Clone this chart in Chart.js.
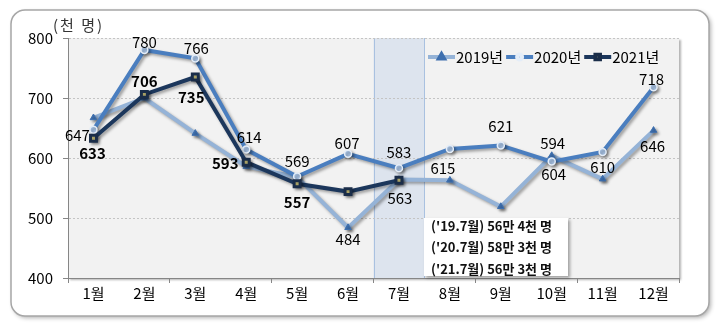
<!DOCTYPE html>
<html>
<head>
<meta charset="utf-8">
<script src="https://cdn.jsdelivr.net/npm/chart.js@4.4.0/dist/chart.umd.min.js"></script>
<style>
  html, body { margin: 0; padding: 0; background: #fff; }
  canvas { display: block; }
</style>
</head>
<body>
<canvas id="chart-visitors" width="724" height="328"></canvas>
<script>
// data
const months = ['1월', '2월', '3월', '4월', '5월', '6월', '7월', '8월', '9월', '10월', '11월', '12월'];
const visitors2019 = [667, 700, 641, 586, 568, 484, 564, 563, 519, 604, 565, 646];
const visitors2020 = [647, 780, 766, 614, 569, 607, 583, 615, 621, 594, 610, 718];
const visitors2021 = [633, 706, 735, 593, 557, 544, 563];
const seriesNames = ['2019년', '2020년', '2021년'];
const unitText = '(천 명)';
const highlightMonth = '7월';
const noteLines = ["('19.7월) 56만 4천 명", "('20.7월) 58만 3천 명", "('21.7월) 56만 3천 명"];

// where each value label sits relative to its point [dx, dy], null = no label
const labelPos2019 = [null, null, null, null, null, [0, 12], null, null, null, [2, 19], null, [-1, 16]];
const labelPos2020 = [[-16, 5], [0, -8], [1, -10], [3, -12], [0, -15], [-1, -11], [0, -16], [-7, 19], [0, -19], [1, -18], [0, 15], [-2, -8]];
const labelPos2021 = [[-1, 15], [0, -13], [-4, 20], [-21, 1], [0, 18], null, [1, 18]];
const labelBold2021 = [true, true, true, true, true, true, false];

const fontFam = "'Noto Sans CJK KR', 'Noto Sans', sans-serif";
const axisGray = '#868686';

const pointShadow = {
    id: 'pointShadow',
    beforeDatasetDraw(chart) {
        const ctx = chart.ctx;
        ctx.save();
        ctx.shadowColor = 'rgba(0,0,0,0.35)';
        ctx.shadowBlur = 3;
        ctx.shadowOffsetX = 2;
        ctx.shadowOffsetY = 2;
    },
    afterDatasetDraw(chart) {
        chart.ctx.restore();
    }
};

const frame = {
    id: 'frame',
    beforeDraw(chart) {
        const ctx = chart.ctx;
        const a = chart.chartArea;
        ctx.save();
        ctx.fillStyle = '#fff';
        ctx.fillRect(0, 0, chart.width, chart.height);

        // outer rounded box
        ctx.shadowColor = 'rgba(0,0,0,0.3)';
        ctx.shadowBlur = 4;
        ctx.shadowOffsetX = 2;
        ctx.shadowOffsetY = 2;
        ctx.beginPath();
        ctx.roundRect(11, 10, 698, 306, 14);
        ctx.fill();
        ctx.shadowColor = 'transparent';
        ctx.lineWidth = 1.5;
        ctx.strokeStyle = '#a6a6a6';
        ctx.stroke();

        // plot background
        ctx.shadowColor = 'rgba(0,0,0,0.3)';
        ctx.shadowBlur = 2;
        ctx.shadowOffsetX = 2;
        ctx.shadowOffsetY = 2;
        ctx.fillStyle = '#f2f2f2';
        ctx.fillRect(a.left, a.top, a.right - a.left, a.bottom - a.top);
        ctx.shadowColor = 'transparent';

        // highlighted month band
        const x = chart.scales.x;
        const idx = months.indexOf(highlightMonth);
        const step = (a.right - a.left) / months.length;
        const cx = x.getPixelForValue(idx);
        ctx.fillStyle = '#dde4ee';
        ctx.fillRect(cx - step / 2, a.top, step, a.bottom - a.top);
        ctx.strokeStyle = '#a9c1e0';
        ctx.lineWidth = 1;
        ctx.beginPath();
        ctx.moveTo(Math.round(cx - step / 2) + 0.5, a.top);
        ctx.lineTo(Math.round(cx - step / 2) + 0.5, a.bottom);
        ctx.moveTo(Math.round(cx + step / 2) + 0.5, a.top);
        ctx.lineTo(Math.round(cx + step / 2) + 0.5, a.bottom);
        ctx.stroke();

        // unit text
        ctx.fillStyle = '#333';
        ctx.font = '15px ' + fontFam;
        ctx.letterSpacing = '2px';
        ctx.textBaseline = 'middle';
        ctx.textAlign = 'left';
        ctx.fillText(unitText, 53, 25);
        ctx.restore();
    }
};

const valueLabels = {
    id: 'valueLabels',
    afterDatasetsDraw(chart) {
        const ctx = chart.ctx;
        const positions = [labelPos2019, labelPos2020, labelPos2021];
        ctx.save();
        ctx.textAlign = 'center';
        ctx.textBaseline = 'middle';
        ctx.fillStyle = '#000';
        chart.data.datasets.forEach((ds, d) => {
            const meta = chart.getDatasetMeta(d);
            meta.data.forEach((pt, i) => {
                const p = positions[d][i];
                if (!p) return;
                const bold = d === 2 && labelBold2021[i];
                ctx.font = (bold ? 'bold ' : '') + '15px ' + fontFam;
                ctx.fillText(ds.data[i], pt.x + p[0], pt.y + p[1]);
            });
        });

        // note box under the highlighted month
        ctx.shadowColor = 'rgba(0,0,0,0.35)';
        ctx.shadowBlur = 3;
        ctx.shadowOffsetX = 2;
        ctx.shadowOffsetY = 2;
        ctx.fillStyle = '#fff';
        ctx.fillRect(424, 218, 144, 58);
        ctx.shadowColor = 'transparent';
        ctx.fillStyle = '#111';
        ctx.textAlign = 'left';
        ctx.font = 'bold 13px ' + fontFam;
        noteLines.forEach((t, i) => ctx.fillText(t, 431, 226 + i * 21.5));
        ctx.restore();
    }
};

const customLegend = {
    id: 'customLegend',
    afterDraw(chart) {
        const ctx = chart.ctx;
        let x = 428;
        const y = 57;
        ctx.save();
        ctx.font = '15px ' + fontFam;
        ctx.textBaseline = 'middle';
        ctx.textAlign = 'left';
        chart.data.datasets.forEach((ds) => {
            ctx.strokeStyle = ds.borderColor;
            ctx.lineWidth = 4;
            ctx.beginPath();
            ctx.moveTo(x, y);
            ctx.lineTo(x + 27, y);
            ctx.stroke();
            ctx.fillStyle = ds.pointBackgroundColor;
            ctx.strokeStyle = ds.pointBorderColor;
            Chart.helpers.drawPoint(ctx, {
                pointStyle: ds.pointStyle,
                radius: ds.pointRadius - 1,
                rotation: 0,
                borderWidth: ds.pointBorderWidth
            }, x + 13.5, y);
            ctx.fillStyle = '#000';
            ctx.fillText(ds.label, x + 28, y);
            x += 28 + ctx.measureText(ds.label).width + 3;
        });
        ctx.restore();
    }
};

new Chart(document.getElementById('chart-visitors'), {
    type: 'line',
    data: {
        labels: months,
        datasets: [{
            label: seriesNames[0],
            data: visitors2019,
            borderColor: '#95b3d7',
            borderWidth: 4,
            pointStyle: 'triangle',
            pointRadius: 3.8,
            pointBackgroundColor: '#3e6fae',
            pointBorderColor: '#3e6fae',
            pointBorderWidth: 1,
            order: 2
        }, {
            label: seriesNames[1],
            data: visitors2020,
            borderColor: '#4a7ebf',
            borderWidth: 4,
            pointStyle: 'circle',
            pointRadius: 3.5,
            pointBackgroundColor: '#a9c4e6',
            pointBorderColor: '#e4edf8',
            pointBorderWidth: 1.5,
            order: 1
        }, {
            label: seriesNames[2],
            data: visitors2021,
            borderColor: '#1c375c',
            borderWidth: 4,
            pointStyle: 'rect',
            pointRadius: 4.2,
            pointBackgroundColor: '#e6dc8a',
            pointBorderColor: '#1a2d49',
            pointBorderWidth: 3,
            order: 0
        }]
    },
    options: {
        responsive: false,
        animation: false,
        devicePixelRatio: 1,
        layout: { padding: { left: 0, top: 38, right: 45, bottom: 0 } },
        elements: { line: { tension: 0 } },
        plugins: {
            legend: { display: false },
            tooltip: { enabled: false }
        },
        scales: {
            x: {
                offset: true,
                afterFit(scale) { scale.height = 50; },
                grid: {
                    offset: true,
                    drawOnChartArea: false,
                    tickLength: 5,
                    tickColor: (c) => (c.index === undefined || c.index % 2 === 0) ? axisGray : 'rgba(0,0,0,0)'
                },
                border: { color: axisGray, width: 1 },
                ticks: {
                    color: '#000',
                    padding: 1,
                    maxRotation: 0,
                    font: { size: 15, family: fontFam }
                }
            },
            y: {
                min: 400,
                max: 800,
                afterFit(scale) { scale.width = 68; },
                grid: {
                    color: (c) => c.tick && c.tick.value === 400 ? 'rgba(0,0,0,0)' : '#c4c4c4',
                    tickLength: 5,
                    tickColor: axisGray
                },
                border: { color: axisGray, width: 1, dash: [2, 2] },
                ticks: {
                    stepSize: 100,
                    color: '#000',
                    padding: 10,
                    font: { size: 15, family: fontFam }
                }
            }
        }
    },
    plugins: [frame, pointShadow, valueLabels, customLegend]
});
</script>
</body>
</html>
